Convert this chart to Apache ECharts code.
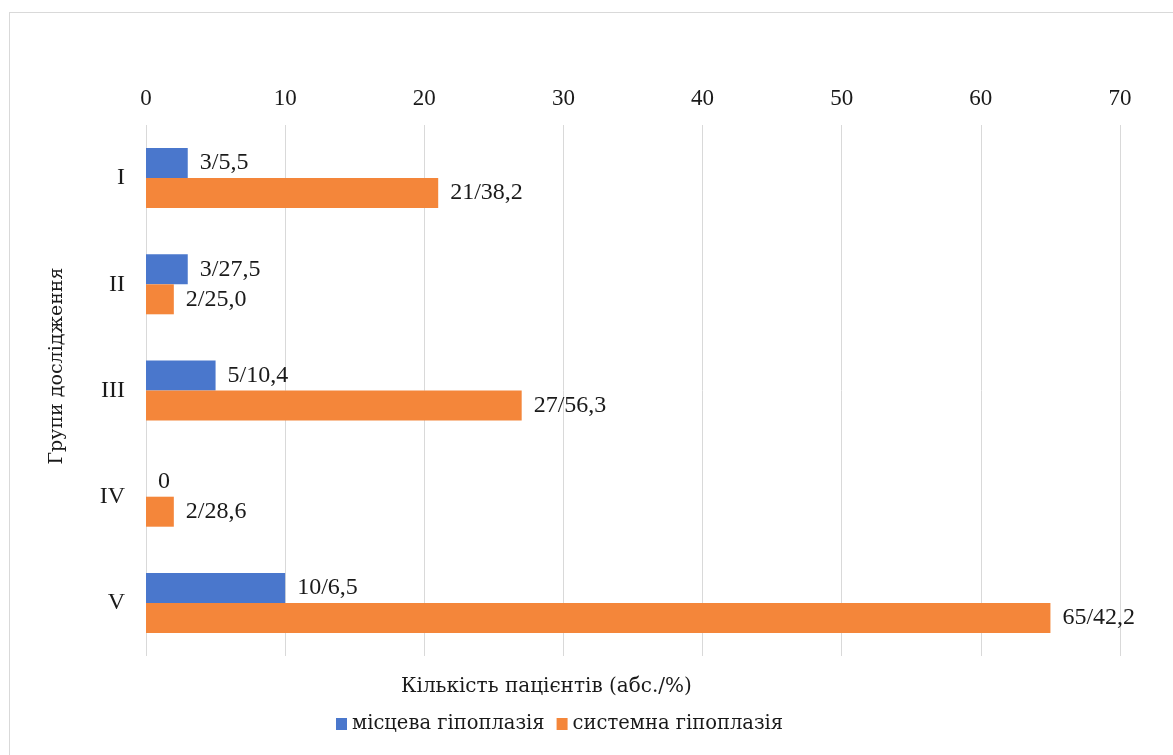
<!DOCTYPE html>
<html>
<head>
<meta charset="utf-8">
<script src="https://cdn.jsdelivr.net/npm/echarts@6/dist/echarts.min.js"></script>
<style>
  html, body { margin: 0; padding: 0; background: #fff; }
  #frame { position: absolute; left: 9px; top: 12px; width: 1200px; height: 800px; border: 1px solid #d9d9d9; }
  #chart { position: absolute; left: 0; top: 0; width: 1173px; height: 755px; }
</style>
</head>
<body>
<div id="frame"></div>
<div id="chart"></div>
<script>
  // групи дослідження
  const groups = ['I', 'II', 'III', 'IV', 'V']
  // місцева гіпоплазія: абс. / %
  const localAbs = [3, 3, 5, 0, 10]
  const localPct = [5.5, 27.5, 10.4, 0, 6.5]
  // системна гіпоплазія: абс. / %
  const systemAbs = [21, 2, 27, 2, 65]
  const systemPct = [38.2, 25.0, 56.3, 28.6, 42.2]
  const xTicks = [0, 10, 20, 30, 40, 50, 60, 70]

  const font = 'Liberation Serif, DejaVu Serif, serif'
  // кирилиця: Liberation Serif тут без неї, тому DejaVu Serif
  const cyr = 'DejaVu Serif'
  const txt = '#1a1a1a'

  function labelText(abs, pct) {
    return function (p) {
      const a = abs[p.dataIndex]
      if (a === 0) return '0'
      return a + '/' + pct[p.dataIndex].toFixed(1).replace('.', ',')
    }
  }

  const chart = echarts.init(document.getElementById('chart'))
  chart.setOption({
    animation: false,
    textStyle: { fontFamily: font },
    grid: { left: 146, right: 53, top: 125, bottom: 99 },
    legend: {
      left: 331,
      top: 709,
      itemWidth: 11,
      itemHeight: 12,
      itemGap: 12,
      icon: 'rect',
      textStyle: { fontFamily: cyr, fontSize: 19.5, color: txt },
      data: ['місцева гіпоплазія', 'системна гіпоплазія']
    },
    graphic: [{
      type: 'text',
      left: 401,
      top: 677,
      style: {
        text: 'Кількість пацієнтів (абс./%)',
        fontFamily: cyr,
        fontSize: 20,
        fill: txt
      }
    }, {
      type: 'text',
      x: 57,
      y: 366,
      rotation: Math.PI / 2,
      style: {
        text: 'Групи дослідження',
        fontFamily: cyr,
        fontSize: 19,
        fill: txt,
        align: 'center',
        verticalAlign: 'middle'
      }
    }],
    xAxis: {
      type: 'value',
      position: 'top',
      min: xTicks[0],
      max: xTicks[xTicks.length - 1],
      interval: 10,
      axisLine: { show: false },
      axisTick: { show: false },
      axisLabel: { fontSize: 23, color: txt, margin: 15, fontFamily: font },
      splitLine: { lineStyle: { color: '#d9d9d9', width: 1 } }
    },
    yAxis: {
      type: 'category',
      inverse: true,
      data: groups,
      axisLine: { show: false },
      axisTick: { show: false },
      axisLabel: { fontSize: 24, color: txt, margin: 21, fontFamily: font }
    },
    series: [{
      name: 'місцева гіпоплазія',
      type: 'bar',
      data: localAbs,
      barWidth: 30,
      barGap: '0%',
      itemStyle: { color: '#4A77CC' },
      label: {
        show: true,
        position: 'right',
        distance: 12,
        fontSize: 24,
        color: txt,
        fontFamily: font,
        formatter: labelText(localAbs, localPct)
      }
    }, {
      name: 'системна гіпоплазія',
      type: 'bar',
      data: systemAbs,
      barWidth: 30,
      itemStyle: { color: '#F4863A' },
      label: {
        show: true,
        position: 'right',
        distance: 12,
        fontSize: 24,
        color: txt,
        fontFamily: font,
        formatter: labelText(systemAbs, systemPct)
      }
    }]
  })
</script>
</body>
</html>
